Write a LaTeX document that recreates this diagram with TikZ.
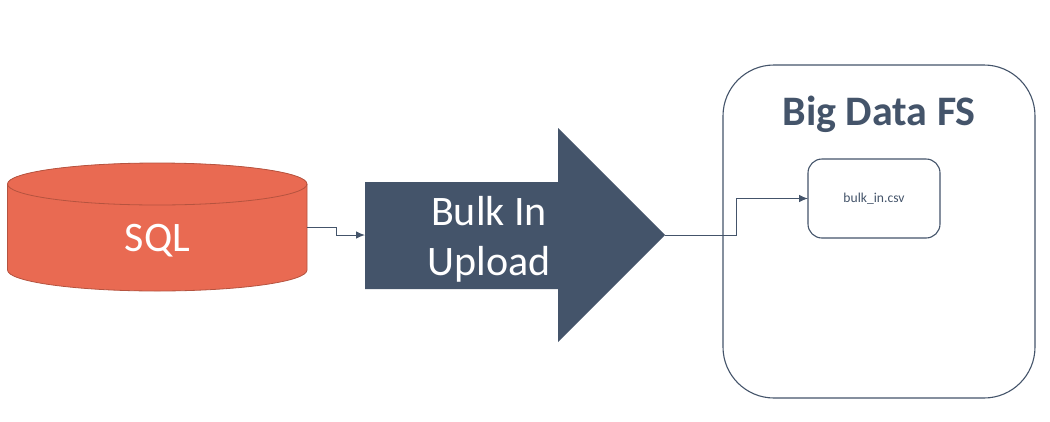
\documentclass[tikz,border=0pt]{standalone}
\usepackage{fontspec}
\setmainfont{Carlito}
\usetikzlibrary{arrows.meta}
\definecolor{slate}{HTML}{44546A}
\definecolor{coral}{HTML}{E96A52}
\definecolor{coraldark}{HTML}{B5533F}
\tikzset{
  x=1pt,y=-1pt,
  hull/.style={minimum width=#1,inner sep=0pt,outer sep=0pt},
  link/.style={draw=slate,line width=1pt,-{Latex[length=9pt,width=7.5pt]},rounded corners=0pt},
  bigbox/.style={draw=slate,line width=1.1pt,fill=white,rounded corners=51pt,minimum width=312pt,minimum height=333pt,inner sep=0pt,outer sep=0pt},
  filebox/.style={draw=slate,line width=1.1pt,fill=white,rounded corners=14pt,minimum width=132pt,minimum height=79pt,inner sep=0pt,outer sep=0pt,text=slate,font=\fontsize{13.6}{16}\selectfont},
  white label/.style={text=white,font=\fontsize{42}{50}\selectfont,align=center,inner sep=0pt},
}
\begin{document}
\begin{tikzpicture}
\useasboundingbox (0,0) rectangle (1050,421);
% Big Data FS container
\node[bigbox] (fs) at (879,231.5) {};
\node[text=slate,font=\fontsize{42}{50}\selectfont\bfseries,inner sep=0pt] (fstitle) at (879,114.5) {Big Data FS};
\node[filebox] (file) at (874,198.5) {bulk\_in.csv};
% SQL cylinder
\node[hull=299.5pt,minimum height=128pt] (sql) at (157.25,227) {};
\fill[coral] (7.5,184) arc[x radius=149.75,y radius=21,start angle=180,end angle=360] -- (307,270)
  arc[x radius=149.75,y radius=21,start angle=0,end angle=180] -- cycle;
\fill[coral] (157.25,184) ellipse[x radius=149.75,y radius=21];
\draw[coraldark,line width=0.8pt] (7.5,184) -- (7.5,270) arc[x radius=149.75,y radius=21,start angle=180,end angle=0] -- (307,184);
\draw[coraldark,line width=0.8pt] (157.25,184) ellipse[x radius=149.75,y radius=21];
\node[white label] (sqltext) at (157.5,241) {SQL};
% Block arrow
\node[hull=300pt,minimum height=214pt] (upload) at (515,235) {};
\fill[slate] (365,182) -- (558,182) -- (558,128) -- (665,235) -- (558,342) -- (558,289) -- (365,289) -- cycle;
\node[white label] (uploadtext) at (489,239.5) {Bulk In\\Upload};
% Connectors
\draw[link] (sql.east) -- ++(29,0) |- (upload.west);
\draw[link] (upload.east) -- ++(71.5,0) |- (file.west);
\end{tikzpicture}
\end{document}
